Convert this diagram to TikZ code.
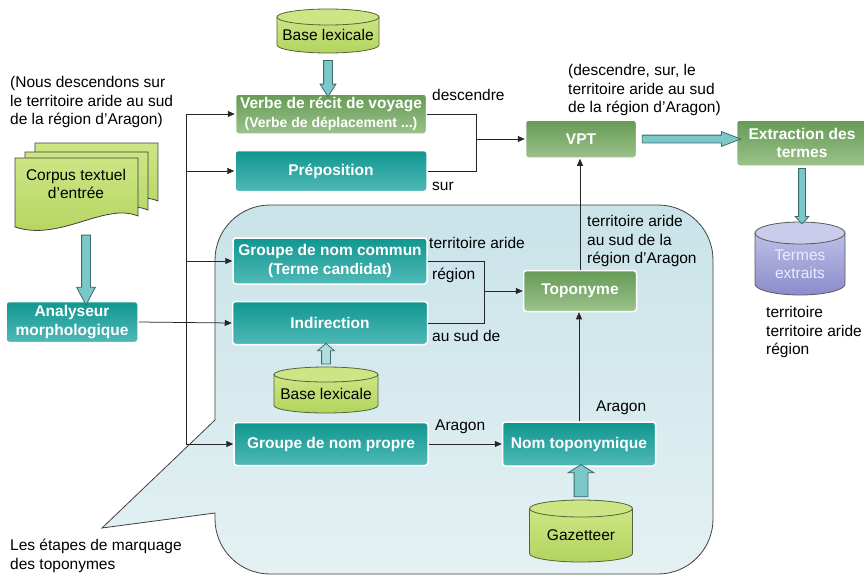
\documentclass[tikz,border=0pt]{standalone}
\usepackage{fontspec}
\setmainfont{Liberation Sans}
\usetikzlibrary{arrows.meta,shapes.arrows,calc,positioning}

\definecolor{greentop}{HTML}{659A55}
\definecolor{greenbot}{HTML}{9CC28B}
\definecolor{tealtop}{HTML}{109690}
\definecolor{tealbot}{HTML}{50B9B6}
\definecolor{limetop}{HTML}{CDE584}
\definecolor{limebot}{HTML}{B2D45E}
\definecolor{limeline}{HTML}{55633A}
\definecolor{purptop}{HTML}{CBCBEC}
\definecolor{purpbot}{HTML}{8A8CCC}
\definecolor{bubbletop}{HTML}{C9E3E8}
\definecolor{bubblebot}{HTML}{E4F1F3}
\definecolor{fatfill}{HTML}{7CC7C7}
\definecolor{fatline}{HTML}{3D6B6B}

\tikzset{
  stepbox/.style={rectangle, rounded corners=3pt, draw=white, line width=1.5pt,
    text=white, font=\bfseries\fontsize{15.5}{18.5}\selectfont, align=center, inner sep=2pt},
  greenbox/.style={stepbox, top color=greentop, bottom color=greenbot},
  tealbox/.style={stepbox, top color=tealtop, bottom color=tealbot},
  lime body/.style={draw=limeline, line width=0.8pt, top color=limetop, bottom color=limebot},
  lime top/.style={draw=limeline, line width=0.8pt, fill=limetop},
  lime text/.style={font=\fontsize{15.5}{18.5}\selectfont, align=center, inner sep=1pt},
  purple body/.style={draw=black!65, line width=0.8pt, top color=purptop!80!purpbot, bottom color=purpbot},
  purple top/.style={draw=black!65, line width=0.8pt, fill=purptop},
  purple text/.style={lime text, text=white!92!blue},
  fatarrow/.style={single arrow, draw=fatline, fill=fatfill, line width=0.8pt, inner xsep=0pt,
    inner ysep=4pt, single arrow head extend=4pt, single arrow tip angle=70, outer sep=0pt},
  flow/.style={-{Triangle[length=7pt,width=6pt]}, line width=0.75pt, draw=black!85},
  lbl/.style={font=\fontsize{15.5}{18.5}\selectfont, inner sep=0pt, align=left, anchor=west},
  page/.style={draw=black!75, line width=0.8pt, top color=limetop, bottom color=limebot},
}

% thick block arrow between two points
\newcommand{\fatarrow}[4][]{%
  \path let \p1=(#3), \p2=(#4), \n1={veclen(\x2-\x1,\y2-\y1)}, \n2={atan2(\y2-\y1,\x2-\x1)} in
    node[fatarrow, #1, minimum height=\n1, rotate=\n2] (#2) at ($(\p1)!.5!(\p2)$) {};
}

% database: name, colour, x, top, bottom, x radius, y radius, text
\newcommand{\database}[8]{%
  \draw[#2 body] ({#3-#6},{#4+#7}) -- ({#3-#6},{#5-#7})
    .. controls ({#3-#6},{#5-0.45*#7}) and ({#3-0.55*#6},{#5}) .. ({#3},{#5})
    .. controls ({#3+0.55*#6},{#5}) and ({#3+#6},{#5-0.45*#7}) .. ({#3+#6},{#5-#7})
    -- ({#3+#6},{#4+#7}) -- cycle;
  \draw[#2 top] ({#3},{#4+#7}) ellipse [x radius=#6, y radius=#7];
  \node[#2 text] (#1) at ({#3},{(#4+#7+#5)/2}) {#8};
  \coordinate (#1top) at ({#3},{#4});
  \coordinate (#1bot) at ({#3},{#5});
}

\begin{document}
\begin{tikzpicture}[x=1pt, y=-1pt]
  \useasboundingbox (0,0) rectangle (864,576);

  \newcommand{\corpuspage}{
    \draw[page] (0,0) -- (123,0) -- (123,58) .. controls (90,44) and (45,84) .. (0,69) -- cycle;
  }

  % bulle des etapes de marquage
  \draw[draw=black!75, line width=0.8pt, top color=bubbletop, bottom color=bubblebot]
    (215,420) -- (215,260) .. controls (215,229.6) and (239.6,205) .. (270,205)
    -- (658,205) .. controls (688.4,205) and (713,229.6) .. (713,260)
    -- (713,519) .. controls (713,549.4) and (688.4,574) .. (658,574)
    -- (270,574) .. controls (239.6,574) and (215,549.4) .. (215,519)
    -- (215,513) -- (102,528) -- cycle;

  % corpus
  \begin{scope}[shift={(35,143)}]
    \corpuspage;
  \end{scope}
  \begin{scope}[shift={(25,152)}]
    \corpuspage;
  \end{scope}
  \begin{scope}[shift={(15,158)}]
    \corpuspage;
  \end{scope}
  \node[lbl, anchor=center, align=center] (corpus) at (76,184) {Corpus textuel\\d’entrée};
  \coordinate (corpusfoot) at (86,231);

  \node[lbl] (phrase) at (10,102) {(Nous descendons sur\\le territoire aride au sud\\de la région d’Aragon)};

  \node[tealbox, minimum width=132pt, minimum height=41pt] (analyseur) at (72,322) {Analyseur\\morphologique};

  \database{baseA}{lime}{328}{9}{53}{51}{8}{Base lexicale}
  \node[greenbox, minimum width=191pt, minimum height=40pt] (verbe) at (331,114)
    {Verbe de récit de voyage\\{\fontsize{14}{16}\selectfont(Verbe de déplacement ...)}};
  \node[tealbox, minimum width=192pt, minimum height=41pt] (prep) at (331,171) {Préposition};

  \node[tealbox, minimum width=194pt, minimum height=46pt] (gnc) at (330,261) {Groupe de nom commun\\(Terme candidat)};
  \node[tealbox, minimum width=195pt, minimum height=43pt] (indirection) at (330,323) {Indirection};
  \database{baseB}{lime}{326}{367}{413}{52}{7.5}{Base lexicale}
  \node[tealbox, minimum width=194pt, minimum height=43pt] (gnp) at (331,444) {Groupe de nom propre};
  \node[tealbox, minimum width=153pt, minimum height=44pt] (nomtopo) at (579,444) {Nom toponymique};
  \database{gazetteer}{lime}{581}{500}{562}{51.5}{8.5}{Gazetteer}
  \node[greenbox, minimum width=113pt, minimum height=41pt] (toponyme) at (580,291) {Toponyme};

  \node[greenbox, minimum width=111pt, minimum height=38pt] (vpt) at (581,139) {VPT};
  \node[greenbox, minimum width=131pt, minimum height=46pt] (extraction) at (802,143) {Extraction des\\termes};
  \database{termes}{purple}{800}{222}{295}{45}{11}{Termes\\extraits}

  % fleches epaisses
  \fatarrow[single arrow head extend=3.5pt, single arrow tip angle=64]{fa}{[yshift=-4pt]baseAbot}{baseAbot |- verbe.north}
  \fatarrow[single arrow head extend=5pt, single arrow tip angle=56]{fb}{corpusfoot}{corpusfoot |- analyseur.north}
  \fatarrow[fill=fatfill!60, single arrow head extend=4pt, single arrow tip angle=97]{fc}{[yshift=1pt]baseBtop}{baseBtop |- indirection.south}
  \fatarrow[inner ysep=6.5pt, single arrow head extend=6pt, single arrow tip angle=115]{fd}{[yshift=1pt]gazetteertop}{gazetteertop |- nomtopo.south}
  \fatarrow[inner ysep=3.5pt, single arrow head extend=3.5pt, single arrow tip angle=42]{fe}{vpt.east}{vpt.east -| extraction.west}
  \fatarrow[inner ysep=3pt, single arrow head extend=3.5pt, single arrow tip angle=86]{ff}{extraction.south}{extraction.south |- termestop}

  % connexions
  \coordinate (trunk) at (186,323);
  \draw[flow] (analyseur.east) -- (indirection.west);
  \draw[flow] (trunk) |- (verbe.west);
  \draw[flow] (trunk) |- (prep.west);
  \draw[flow] (trunk) |- (gnc.west);
  \draw[flow] (trunk) |- (gnp.west);

  \coordinate (jv) at (476,139);
  \draw[flow, -] (verbe.east) -| (jv);
  \draw[flow, -] (prep.east) -| (jv);
  \draw[flow] (jv) -- (vpt.west);

  \coordinate (jt) at (484,291);
  \draw[flow, -] (gnc.east) -| (jt);
  \draw[flow, -] (indirection.east) -| (jt);
  \draw[flow] (jt) -- (toponyme.west);

  \draw[flow] (toponyme.north) -- (toponyme.north |- vpt.south);
  \draw[flow] (nomtopo.north) -- (nomtopo.north |- toponyme.south);
  \draw[flow] (gnp.east) -- (nomtopo.west);

  % etiquettes
  \node[lbl] (ldesc) at (432,95) {descendre};
  \node[lbl] (lsur) at (432,186) {sur};
  \node[lbl] (lvpt) at (568,90) {(descendre, sur, le\\territoire aride au sud\\de la région d’Aragon)};
  \node[lbl] (lterr) at (429,243) {territoire aride};
  \node[lbl] (lreg) at (432,275) {région};
  \node[lbl] (lsud) at (432,336) {au sud de};
  \node[lbl] (ltopo) at (587,241) {territoire aride\\au sud de la\\région d’Aragon};
  \node[lbl] (laragonA) at (596,408) {Aragon};
  \node[lbl] (laragonB) at (435,427) {Aragon};
  \node[lbl] (lliste) at (766,332) {territoire\\territoire aride\\région};
  \node[lbl] (letapes) at (10,556) {Les étapes de marquage\\des toponymes};
\end{tikzpicture}
\end{document}
